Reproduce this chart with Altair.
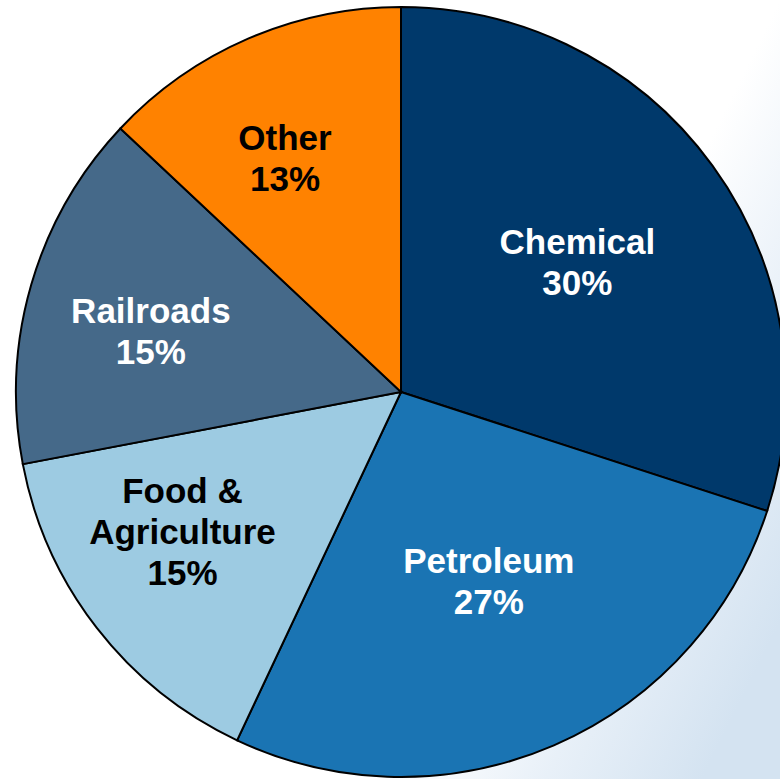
import altair as alt
import pandas as pd

categories = ["Chemical", "Petroleum", "Food & Agriculture", "Railroads", "Other"]
display_names = ["Chemical", "Petroleum", "Food &\nAgriculture", "Railroads", "Other"]
shares = [30, 27, 15, 15, 13]
slice_colors = ["#00396b", "#1a74b3", "#9dcbe2", "#456989", "#ff8200"]
text_colors = ["white", "white", "black", "white", "black"]

df = pd.DataFrame({
    "category": categories,
    "share": shares,
    "order": list(range(len(categories))),
    "label": [f"{n}\n{s}%" for n, s in zip(display_names, shares)],
})

CX, CY, R = 401, 392, 385
LINE_H = 41

bg = alt.Chart(alt.Data(values=[{"a": 1}])).mark_rect(
    color=alt.Gradient(
        gradient="linear",
        stops=[
            alt.GradientStop(color="#ffffff", offset=0),
            alt.GradientStop(color="#ffffff", offset=0.68),
            alt.GradientStop(color="#e8f0f8", offset=0.84),
            alt.GradientStop(color="#d4e3f1", offset=1),
        ],
        x1=0, x2=1, y1=0.3, y2=0.8,
    )
).encode(x=alt.value(0), x2=alt.value(780), y=alt.value(0), y2=alt.value(779))

base = alt.Chart(df)

pie = base.mark_arc(radius=R, stroke="black", strokeWidth=2).encode(
    theta=alt.Theta("share:Q", stack=True),
    order=alt.Order("order:Q"),
    color=alt.Color("category:N", scale=alt.Scale(domain=categories, range=slice_colors), legend=None),
    x=alt.value(CX),
    y=alt.value(CY),
)

label_radius = [218, 210, 260, 257, 260]
label_theta_adj = [0.0, -0.023, 0.087, -0.051, -0.054]

text_layers = []
for cat, name, col, r, adj in zip(categories, display_names, text_colors, label_radius, label_theta_adj):
    n_lines = name.count("\n") + 2
    t = base.mark_text(
        font="Liberation Sans",
        fontWeight="bold",
        fontSize=35,
        lineHeight=LINE_H,
        lineBreak="\n",
        align="center",
        baseline="middle",
        color=col,
        thetaOffset=adj,
        dy=-(n_lines - 1) * LINE_H / 2,
    ).encode(
        theta=alt.Theta("share:Q", stack=True),
        order=alt.Order("order:Q"),
        radius=alt.value(r),
        x=alt.value(CX),
        y=alt.value(CY),
        text=alt.condition(f"datum.category == '{cat}'", alt.Text("label:N"), alt.value("")),
    )
    text_layers.append(t)

chart = alt.layer(bg, pie, *text_layers).properties(
    width=780, height=779, padding=0, autosize=alt.AutoSizeParams(type="none")
).configure_view(stroke=None)

chart.save("out.html", embed_options={"renderer": "svg", "actions": False})
